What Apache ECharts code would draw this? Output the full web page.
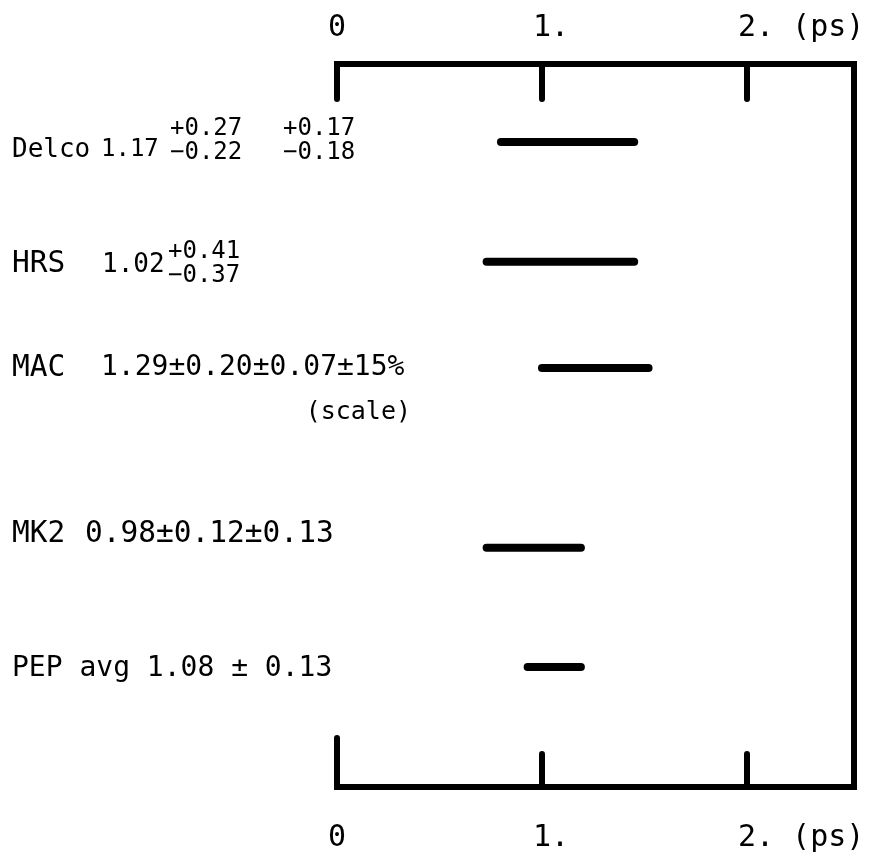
<!DOCTYPE html>
<html><head><meta charset="utf-8">
<script src="https://cdn.jsdelivr.net/npm/echarts@6/dist/echarts.min.js"></script>
<style>html,body{margin:0;padding:0;background:#fff}#c{width:870px;height:857px}</style>
</head><body><div id="c"></div>
<script>
// ---- data ----
const axisUnit = '(ps)';
const axisMin = 0;
const axisMax = 2.52;
const axisInterval = 1;
const experiments = ['Delco', 'HRS', 'MAC', 'MK2', 'PEP avg'];
const rowPos = [0.65, 1.65, 2.535, 4.035, 5.03];          // row placement (row units)
const rowMax = 6.03;
const lowEdge = [0.80, 0.73, 1.00, 0.73, 0.93];           // bar start (ps)
const highEdge = [1.45, 1.45, 1.52, 1.19, 1.19];          // bar end (ps)
const valueText = ['1.17', '1.02', '1.29\u00b10.20\u00b10.07\u00b115%', '0.98\u00b10.12\u00b10.13', '1.08 \u00b1 0.13'];
const supText = [['+0.27', '+0.17'], ['+0.41'], [], [], []];
const subText = [['\u22120.22', '\u22120.18'], ['\u22120.37'], [], [], []];
const noteText = ['', '', '(scale)', '', ''];

const FONT = '"DejaVu Sans Mono", monospace';
const chart = echarts.init(document.getElementById('c'));

// monospaced tick labels: digit centred on its tick, unit after the last one
function tickLabel(v) {
  if (!Number.isInteger(v)) return '';
  if (v === 0) return '0';
  if (v === 2) return '      ' + v + '. ' + axisUnit;
  return ' ' + v + '.';
}
const lineSt = {color: '#000', width: 6, cap: 'square'};
const tickSt = {color: '#000', width: 6, cap: 'round'};
const labelSt = {fontFamily: FONT, fontSize: 30, color: '#000', verticalAlign: 'middle', align: 'center'};

const option = {
  animation: false,
  backgroundColor: '#fff',
  grid: {left: 337, right: 16.5, top: 64, bottom: 70, containLabel: false},
  xAxis: [
    {
      type: 'value', position: 'top', min: axisMin, max: axisMax, interval: axisInterval,
      axisLine: {show: true, onZero: false, lineStyle: lineSt},
      axisTick: {show: true, inside: true, length: 35, lineStyle: tickSt},
      axisLabel: Object.assign({show: true, margin: 36, formatter: tickLabel, showMaxLabel: false}, labelSt),
      splitLine: {show: false}
    },
    {
      type: 'value', position: 'bottom', min: axisMin, max: axisMax, interval: axisInterval,
      axisLine: {show: true, onZero: false, lineStyle: lineSt},
      axisTick: {show: true, inside: true, length: 33, lineStyle: tickSt},
      axisLabel: Object.assign({show: true, margin: 51, formatter: tickLabel, showMaxLabel: false}, labelSt),
      splitLine: {show: false}
    },
    {
      type: 'value', position: 'bottom', min: axisMin, max: axisMax, interval: 10,
      axisLine: {show: false, onZero: false},
      axisTick: {show: true, inside: true, length: 49, lineStyle: tickSt},
      axisLabel: {show: false},
      splitLine: {show: false}
    }
  ],
  yAxis: [{
    type: 'value', position: 'right', min: 0, max: rowMax, inverse: true,
    axisLine: {show: true, onZero: false, lineStyle: lineSt},
    axisTick: {show: false}, axisLabel: {show: false}, splitLine: {show: false}
  }],
  series: experiments.map((name, i) => ({
    name: name, type: 'line', xAxisIndex: 0, yAxisIndex: 0,
    data: [[lowEdge[i], rowPos[i]], [highEdge[i], rowPos[i]]],
    symbol: 'none', silent: true,
    lineStyle: {color: '#000', width: 8, cap: 'round'}
  }))
};
chart.setOption(option);

// ---- row labels, placed at the rows through the y axis scale ----
const yPix = v => chart.convertToPixel({yAxisIndex: 0}, v);
// layout (pixel styling only): name size, value x/size, vertical offsets
const layout = [
  {size: 26, valSize: 24, dy: 8, valX: 101, scr: {size: 24, x: [170, 283], supDy: -13, subDy: 11}},
  {size: 29.5, valSize: 26, dy: 3, valX: 102, scr: {size: 24, x: [168], supDy: -10, subDy: 14}},
  {size: 29.5, valSize: 28, dy: 0, valX: 101, note: {x: 411, dy: 45, size: 25}},
  {size: 29.5, valSize: 29.5, dy: -13, valX: 85},
  {size: 28, valSize: 28, dy: 1.5, valX: null}
];
const els = [];
function txt(text, x, y, size, align) {
  els.push({type: 'text', x: x, y: y, silent: true,
    style: {text: text, font: size + 'px ' + FONT, fontSize: size, fontFamily: FONT, fill: '#000',
      align: align || 'left', verticalAlign: 'middle', textAlign: align || 'left', textVerticalAlign: 'middle'}});
}
experiments.forEach((name, i) => {
  const y = yPix(rowPos[i]);
  const L = layout[i];
  if (L.valX === null) {
    txt(name + ' ' + valueText[i], 12, y + L.dy, L.size);
  } else {
    txt(name, 12, y + L.dy, L.size);
    txt(valueText[i], L.valX, y + L.dy, L.valSize);
  }
  supText[i].forEach((s, k) => txt(s, L.scr.x[k], y + L.scr.supDy, L.scr.size));
  subText[i].forEach((s, k) => txt(s, L.scr.x[k], y + L.scr.subDy, L.scr.size));
  if (noteText[i]) txt(noteText[i], L.note.x, y + L.note.dy, L.note.size, 'right');
});
chart.setOption({graphic: els});
</script>
</body></html>
